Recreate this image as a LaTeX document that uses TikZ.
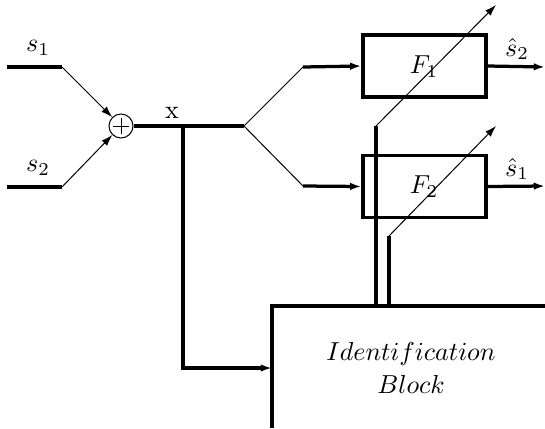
\documentclass[tikz,border=0pt]{standalone}
\usetikzlibrary{arrows.meta}
\begin{document}
\begin{tikzpicture}[x=0.4pt,y=-0.4pt,
  thk/.style={line width=1.3pt},
  thn/.style={line width=0.4pt},
  tip/.style={-{Latex[length=4.5pt,width=3pt]}},
  blockbox/.style={draw,line width=1.3pt,minimum width=123*0.4pt,minimum height=62*0.4pt,inner sep=0pt},
  lbl/.style={inner sep=0pt,scale=1.04}]
\useasboundingbox (0,0) rectangle (545,428);
% coordinates
\coordinate (s1a) at (7,67);
\coordinate (s1b) at (62,67);
\coordinate (s2a) at (7,187);
\coordinate (s2b) at (62,187);
\node[draw,circle,thn,minimum size=24*0.4pt,inner sep=0pt] (sum) at (121,126) {};
\draw[thn] (113,126) -- (129,126) (121,118) -- (121,134);
\coordinate (tap) at (183,126);
\coordinate (br) at (244,126);
\coordinate (u1) at (303,67);
\coordinate (u2) at (303,186);
\node[blockbox] (F1) at (424.5,66) {};
\node[blockbox] (F2) at (424.5,186.5) {};
\node[lbl] at (424,67) {$F_1$};
\node[lbl] at (424,187) {$F_2$};
\coordinate (o1) at (545,67);
\coordinate (o2) at (545,186);
\coordinate (a1s) at (376,126);
\coordinate (a1e) at (496,5);
\coordinate (a2s) at (389,236);
\coordinate (a2e) at (496,126);
\coordinate (b1) at (376,306);
\coordinate (b2) at (389,306);
\coordinate (tapd) at (183,368);
\coordinate (idin) at (272,368);
\coordinate (idbl) at (272,428);
\coordinate (idtl) at (272,306);
\coordinate (idtr) at (545,306);
% labels
\node[lbl] (ls1) at (38,48) {$s_1$};
\node[lbl] (ls2) at (38,168) {$s_2$};
\node[lbl] (lx) at (172,113) {x};
\node[lbl] (lo1) at (517,49) {$\hat{s}_2$};
\node[lbl] (lo2) at (517,169) {$\hat{s}_1$};
\node[lbl,align=center] (idb) at (411,368) {$Identification$\\[1pt]$Block$};
% lines
\draw[thk] (s1a) -- (s1b);
\draw[thk] (s2a) -- (s2b);
\draw[thn,tip] (s1b) -- (sum);
\draw[thn,tip] (s2b) -- (sum);
\draw[thk] (sum.east) -- (br);
\draw[thn] (u1) -- (br) -- (u2);
\draw[thk,tip] (u1) -- (F1.west);
\draw[thk,tip] (u2) -- (F2.west);
\draw[thk,tip] (F1.east) -- (o1);
\draw[thk,tip] (F2.east) -- (o2);
\draw[thn,tip] (a1s) -- (a1e);
\draw[thn,tip] (a2s) -- (a2e);
\draw[thk] (a1s) -- (b1);
\draw[thk] (a2s) -- (b2);
\draw[thk,tip] (tap) -- (tapd) -- (idin);
\draw[thk] (idbl) -- (idtl) -- (idtr);
\end{tikzpicture}
\end{document}
